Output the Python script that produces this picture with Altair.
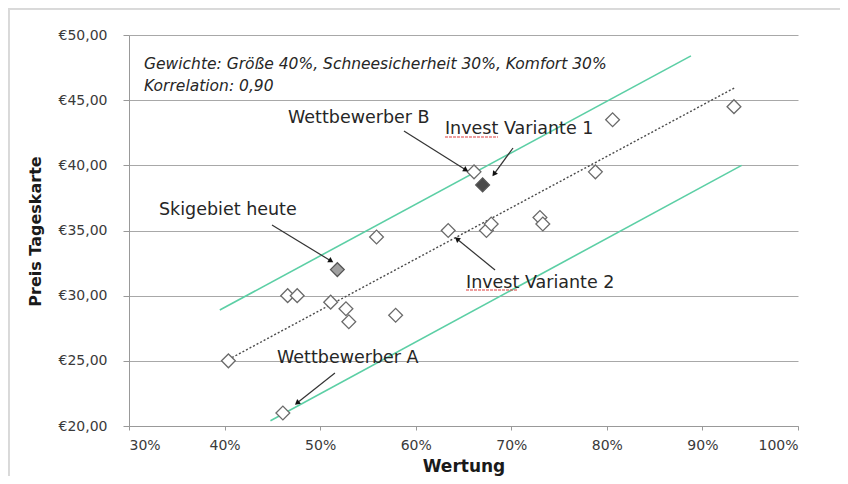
import math
import altair as alt
import pandas as pd

# ---------------- data ----------------
wertung = [40.4, 46.1, 46.6, 47.6, 51.1, 52.7, 53.0, 57.9, 55.9, 63.4, 67.4, 67.9, 73.0, 73.3, 66.1, 78.8, 80.6, 93.3]
preis = [25.0, 21.0, 30.0, 30.0, 29.5, 29.0, 28.0, 28.5, 34.5, 35.0, 35.0, 35.5, 36.0, 35.5, 39.5, 39.5, 43.5, 44.5]

highlight_names = ["Skigebiet heute", "Invest Variante 1"]
highlight_wertung = [51.8, 67.0]
highlight_preis = [32.0, 38.5]
highlight_fill = ["#a0a0a0", "#4a4a4a"]

trend_x = [40.4, 93.5]
trend_y = [25.1, 46.0]
upper_x = [39.5, 88.8]
upper_y = [28.9, 48.4]
lower_x = [44.8, 94.1]
lower_y = [20.4, 40.0]

label_text = ["Wettbewerber B", "Invest Variante 1", "Skigebiet heute", "Invest Variante 2", "Wettbewerber A"]
label_x = [46.64, 63.06, 33.14, 65.26, 45.49]
label_y = [43.25, 42.40, 36.19, 30.59, 24.83]

arrow_x1 = [58.77, 70.18, 44.96, 68.30, 51.55]
arrow_y1 = [42.63, 41.33, 35.42, 31.97, 24.07]
arrow_x2 = [65.26, 68.19, 51.14, 64.32, 47.58]
arrow_y2 = [39.64, 39.33, 32.66, 34.35, 21.76]

# spell-check underlines below "Invest"
underline_x1 = [63.06, 65.26]
underline_x2 = [68.61, 70.70]
underline_y = [42.17, 30.43]

note_lines = ["Gewichte: Größe 40%, Schneesicherheit 30%, Komfort 30%", "Korrelation: 0,90"]
note_x = [31.57, 31.57]
note_y = [47.39, 45.70]

x_ticks = [30, 40, 50, 60, 70, 80, 90, 100]
y_ticks = [20, 25, 30, 35, 40, 45, 50]

W, H = 669, 391
FONT = "DejaVu Sans"

xs = alt.Scale(domain=[30, 100], nice=False, zero=False)
ys = alt.Scale(domain=[20, 50], nice=False, zero=False)

x_axis = alt.Axis(values=x_ticks, labelExpr="datum.value + '%'", grid=False,
                  tickSize=4, tickColor="#999999", domainColor="#999999",
                  labelFontSize=14, labelColor="#3a3a3a", labelPadding=8, labelFont=FONT,
                  title="Wertung", titleFont=FONT, titleFontSize=17, titleFontWeight="bold",
                  titleColor="#1a1a1a", titleX=W / 2, titleY=45, titleBaseline="alphabetic",
                  titleAlign="center")
y_axis = alt.Axis(values=y_ticks,
                  labelExpr="'€' + replace(format(datum.value, '.2f'), '.', ',')",
                  grid=True, gridColor="#a8a8a8", gridWidth=1,
                  tickSize=6, tickColor="#999999", domainColor="#999999",
                  labelFontSize=14, labelColor="#3a3a3a", labelPadding=16, labelFont=FONT,
                  title="Preis Tageskarte", titleFont=FONT, titleFontSize=16, titleFontWeight="bold",
                  titleColor="#1a1a1a", titleX=-89, titleY=196, titleBaseline="alphabetic",
                  titleAlign="center", titleAngle=270)

# ---------------- tables ----------------
pts = pd.DataFrame({"w": wertung, "p": preis})
hl = pd.DataFrame({"name": highlight_names, "w": highlight_wertung, "p": highlight_preis,
                   "fill": highlight_fill})

lines = pd.DataFrame({
    "series": ["trend"] * 2 + ["upper"] * 2 + ["lower"] * 2,
    "w": trend_x + upper_x + lower_x,
    "p": trend_y + upper_y + lower_y,
})

px_x = W / 70.0
px_y = H / 30.0
angles = []
for a, b, c, d in zip(arrow_x1, arrow_y1, arrow_x2, arrow_y2):
    dx = (c - a) * px_x
    dy = -(d - b) * px_y
    angles.append(math.degrees(math.atan2(dx, -dy)) % 360)
arrows = pd.DataFrame({"x1": arrow_x1, "y1": arrow_y1, "x2": arrow_x2, "y2": arrow_y2,
                       "angle": angles})
labels = pd.DataFrame({"t": label_text, "w": label_x, "p": label_y})
notes = pd.DataFrame({"t": note_lines, "w": note_x, "p": note_y})
unders = pd.DataFrame({"x1": underline_x1, "x2": underline_x2, "y": underline_y})

# ---------------- layers ----------------
base_axes = alt.Chart(pts).mark_point(opacity=0).encode(
    x=alt.X("w:Q", scale=xs, axis=x_axis),
    y=alt.Y("p:Q", scale=ys, axis=y_axis),
)

green = alt.Chart(lines).transform_filter("datum.series != 'trend'").mark_line(
    color="#5ccfa5", strokeWidth=1.6).encode(
    x=alt.X("w:Q", scale=xs), y=alt.Y("p:Q", scale=ys), detail="series:N")

trend = alt.Chart(lines).transform_filter("datum.series == 'trend'").mark_line(
    color="#4a4a4a", strokeWidth=1.4, strokeDash=[2, 2]).encode(
    x=alt.X("w:Q", scale=xs), y=alt.Y("p:Q", scale=ys))

open_pts = alt.Chart(pts).mark_point(shape="diamond", size=190, filled=False,
                                     color="#6a6a6a", strokeWidth=1.3, fill="white",
                                     fillOpacity=1).encode(
    x=alt.X("w:Q", scale=xs), y=alt.Y("p:Q", scale=ys))

hl_pts = alt.Chart(hl).mark_point(shape="diamond", size=190, filled=True, opacity=1,
                                  stroke="#555555", strokeWidth=1.3).encode(
    x=alt.X("w:Q", scale=xs), y=alt.Y("p:Q", scale=ys),
    fill=alt.Fill("fill:N", scale=None))

arrow_lines = alt.Chart(arrows).mark_rule(color="#333333", strokeWidth=1.2).encode(
    x=alt.X("x1:Q", scale=xs), y=alt.Y("y1:Q", scale=ys), x2="x2:Q", y2="y2:Q")

arrow_heads = alt.Chart(arrows).mark_point(shape="triangle-up", filled=True, size=36,
                                           color="#111111", opacity=1).encode(
    x=alt.X("x2:Q", scale=xs), y=alt.Y("y2:Q", scale=ys),
    angle=alt.Angle("angle:Q", scale=None))

label_layer = alt.Chart(labels).mark_text(align="left", baseline="alphabetic", font=FONT,
                                          fontSize=17.5, color="#262626").encode(
    x=alt.X("w:Q", scale=xs), y=alt.Y("p:Q", scale=ys), text="t:N")

underline_layer = alt.Chart(unders).mark_rule(color="#e05050", strokeWidth=1.4,
                                             opacity=0.75, strokeDash=[3, 1]).encode(
    x=alt.X("x1:Q", scale=xs), x2="x2:Q", y=alt.Y("y:Q", scale=ys))

note_layer = alt.Chart(notes).mark_text(align="left", baseline="alphabetic", font=FONT,
                                        fontSize=15.5, fontStyle="italic",
                                        color="#262626").encode(
    x=alt.X("w:Q", scale=xs), y=alt.Y("p:Q", scale=ys), text="t:N")

frame_left = alt.Chart(pts).mark_rule(color="#d9d9d9", strokeWidth=3).encode(
    x=alt.value(-121), y=alt.value(-27), y2=alt.value(470))
frame_top = alt.Chart(pts).mark_rule(color="#d9d9d9", strokeWidth=3).encode(
    x=alt.value(-121), x2=alt.value(720), y=alt.value(-27))

chart = alt.layer(
    base_axes, frame_left, frame_top, green, trend, open_pts, hl_pts,
    arrow_lines, arrow_heads, underline_layer, label_layer, note_layer,
).properties(
    width=W, height=H,
    autosize=alt.AutoSizeParams(type="none"),
    padding={"left": 121, "top": 27, "right": 42, "bottom": 50},
    background="white",
).configure_view(stroke=None)

chart.save("out.html", embed_options={"renderer": "svg", "actions": False})
